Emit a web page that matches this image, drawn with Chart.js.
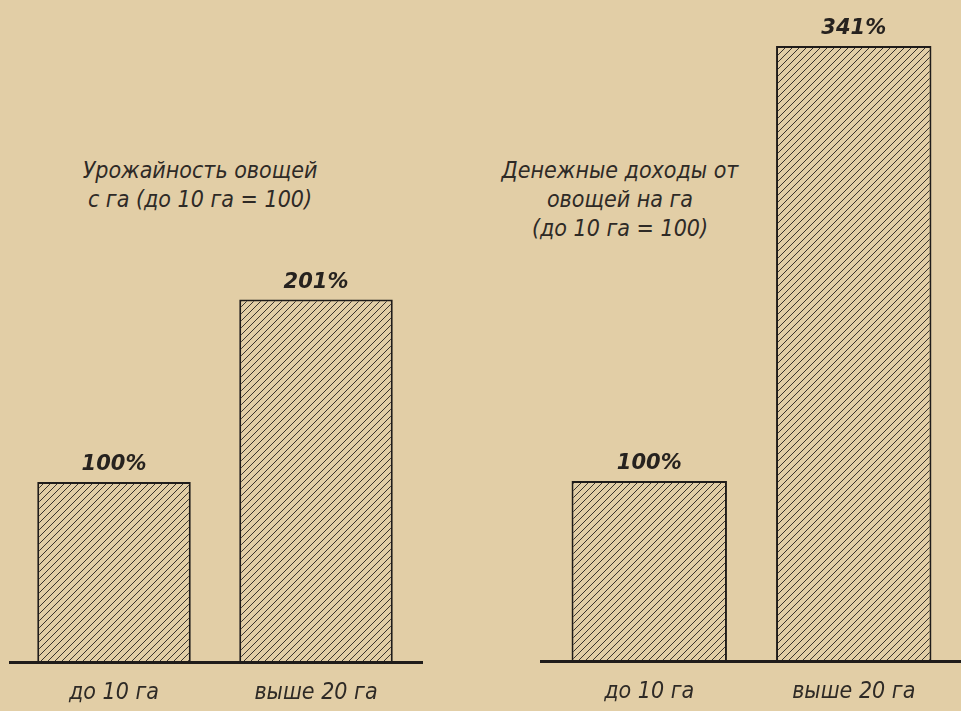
<!DOCTYPE html>
<html>
<head>
<meta charset="utf-8">
<script src="https://cdn.jsdelivr.net/npm/chart.js@4"></script>
<style>
  body { margin: 0; background: #e2cea6; width: 961px; height: 711px; position: relative; overflow: hidden; }
  .box { position: absolute; }
  .title { position: absolute; font-family: "Liberation Sans Narrow", "DejaVu Sans Condensed", sans-serif; font-style: italic; font-size: 23px; color: #2e2a26; text-align: center; line-height: 29px; }
</style>
</head>
<body>
<div class="title" style="left:60px; top:156px; width:280px;">Урожайность овощей<br>с га (до 10 га = 100)</div>
<div class="title" style="left:470px; top:156px; width:300px;">Денежные доходы от<br>овощей на га<br>(до 10 га = 100)</div>
<div class="box" style="left:9px; top:0; width:414px; height:716px;"><canvas id="yieldChart"></canvas></div>
<div class="box" style="left:540px; top:-1px; width:421px; height:716px;"><canvas id="incomeChart"></canvas></div>
<script>
let categories = ["до 10 га", "выше 20 га"];
let yieldValues = [100, 201];
let incomeValues = [100, 341];

function hatch() {
  let c = document.createElement("canvas");
  c.width = 7;
  c.height = 7;
  let g = c.getContext("2d");
  g.fillStyle = "#e2cea6";
  g.fillRect(0, 0, 7, 7);
  g.strokeStyle = "rgba(40,36,32,0.9)";
  g.lineWidth = 1;
  g.beginPath();
  g.moveTo(-1, 8); g.lineTo(8, -1);
  g.moveTo(-8, 8); g.lineTo(1, -1);
  g.moveTo(6, 8); g.lineTo(15, -1);
  g.stroke();
  return g.createPattern(c, "repeat");
}

// value labels above bars + baseline across the whole canvas
let extras = {
  id: "extras",
  afterDatasetsDraw(chart) {
    let ctx = chart.ctx;
    let y0 = chart.scales.y.getPixelForValue(0);
    ctx.save();
    ctx.strokeStyle = "#1f1c1a";
    ctx.lineWidth = 3;
    ctx.beginPath();
    ctx.moveTo(0, y0);
    ctx.lineTo(chart.width, y0);
    ctx.stroke();
    ctx.fillStyle = "#26221f";
    ctx.font = "italic bold 21px 'DejaVu Sans', sans-serif";
    ctx.textAlign = "center";
    ctx.textBaseline = "bottom";
    chart.getDatasetMeta(0).data.forEach((bar, i) => {
      ctx.fillText(chart.data.datasets[0].data[i] + "%", bar.x, bar.y - 7);
    });
    ctx.restore();
  }
};

function makeChart(id, values, padL, padR) {
  let ctx = document.getElementById(id).getContext("2d");
  return new Chart(ctx, {
    type: "bar",
    data: {
      labels: categories,
      datasets: [
        {
          data: values,
          backgroundColor: hatch(),
          borderColor: "#1f1c1a",
          borderWidth: 2,
          barPercentage: 0.76,
          categoryPercentage: 1,
        },
      ],
    },
    options: {
      responsive: true,
      maintainAspectRatio: false,
      animation: false,
      layout: { padding: { left: padL, right: padR, top: 0, bottom: 0 } },
      plugins: { legend: { display: false }, tooltip: { enabled: false } },
      scales: {
        x: {
          grid: { display: false },
          border: { display: false },
          ticks: {
            color: "#2e2a26",
            padding: 9,
            font: { family: "'Liberation Sans Narrow', 'DejaVu Sans Condensed', sans-serif", style: "italic", size: 23 },
          },
        },
        y: {
          display: false,
          min: 0,
          max: 367,
        },
      },
    },
    plugins: [extras],
  });
}

let yieldChart = makeChart("yieldChart", yieldValues, 4, 6);
let incomeChart = makeChart("incomeChart", incomeValues, 7, 5);
</script>
</body>
</html>
